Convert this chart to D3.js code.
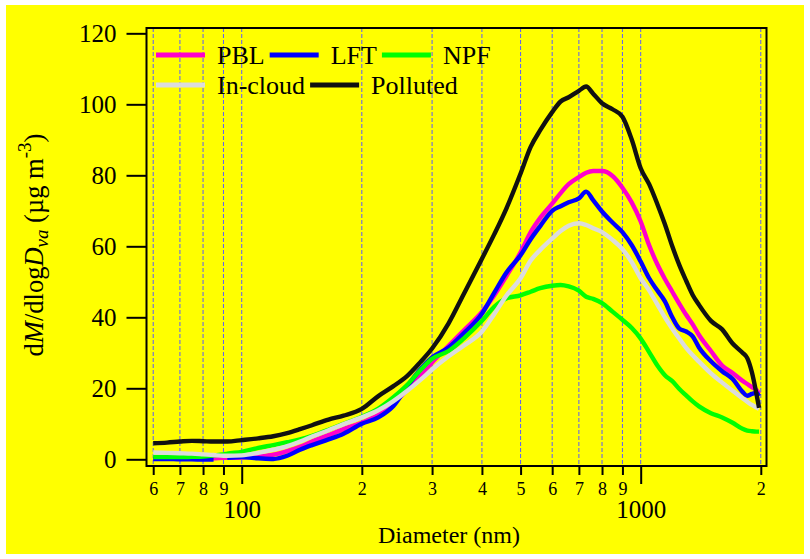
<!DOCTYPE html>
<meta charset="utf-8">
<style>
body { margin: 0; background: #fff; }
svg { display: block; }
.axis path, .axis line { stroke: #000; stroke-width: 2; fill: none; }
.axis text { font-family: "Liberation Serif", serif; fill: #000; }
.grid line { stroke: #5a5aff; stroke-width: 1; stroke-dasharray: 4,2; }
.series { fill: none; stroke-width: 4.4; stroke-linejoin: round; }
.legend text { font: 26px "Liberation Serif", serif; }
</style>
<body>
<script src="https://d3js.org/d3.v7.min.js"></script>
<script>

// diameters (nm) shared by every series
var diameters = [60, 65, 70, 75, 80, 85, 90, 92, 100,
    110, 120, 130, 140, 150, 165, 180, 200,
    220, 240, 260, 280, 300, 330, 360, 400,
    430, 460, 500, 530, 560, 600, 630, 660,
    700, 730, 760, 800, 850, 900, 950, 1000,
    1050, 1100, 1150, 1200, 1250, 1300, 1350, 1400,
    1500, 1600, 1700, 1800, 1850, 1900, 1950, 1980];

var pbl = [0.2, 0.2, 0.2, 0.2, 0.3, 0.3, 0.4, 0.4, 0.5,
    0.8, 1.3, 2.3, 3.5, 5.0, 6.8, 8.5, 10.3,
    12.5, 15.8, 19.5, 23.5, 27.3, 32, 36.3, 41.5,
    46.3, 51.5, 58.3, 64, 68, 72, 75, 77.5,
    79.5, 80.7, 81.2, 81.2, 79.8, 76.5, 72.3, 67,
    60.3, 55, 50.8, 47.2, 43.8, 40.7, 38, 35,
    30.5, 26.4, 24.3, 22.1, 21.2, 20.3, 19.5, 18.5];

var lft = [0.1, 0.1, 0.0, 0.0, -0.1, -0.1, null, 0.4, 0.6,
    0.3, 0.1, 1.0, 2.7, 4.0, 5.6, 7.2, 10.0,
    11.8, 15, 20.5, 25.3, 28.7, 31.5, 35.5, 41,
    47, 52.5, 57.5, 62, 65.7, 70, 71.3, 72.4,
    73.5, 75.4, 73, 69.8, 66.7, 64, 60.3, 55.7,
    51, 47.6, 44.5, 40, 36.8, 36, 34.6, 31.5,
    27.6, 24.8, 22.6, 19, 17.9, 18.4, 18.7, 17.8];

var npf = [0.6, 0.6, 0.6, 0.7, 0.8, 1.1, 1.4, 1.6, 2.1,
    3.2, 4.0, 4.8, 5.6, 6.6, 8.3, 10.0, 12,
    14.3, 17.5, 21, 25, 28.3, 30.5, 34, 39,
    43, 45.3, 46.2, 47.2, 48.2, 48.9, 49.1, 48.7,
    47.5, 45.8, 45.2, 44, 41.6, 39.3, 37, 34,
    30.2, 26.5, 23.7, 22, 19.8, 18, 16.3, 14.9,
    13, 11.8, 10.3, 8.6, 8.1, 7.9, 7.8, 7.8];

var inCloud = [1.9, 1.8, 1.7, 1.6, 1.4, 1.2, 1.0, 1.0, 1.1,
    1.8, 2.7, 3.7, 5.0, 6.4, 8.2, 9.9, 11.8,
    13.8, 16.4, 19.3, 22.3, 25.3, 29, 32, 36,
    41, 46, 51, 56, 59, 62.2, 64.3, 65.8,
    66.5, 66, 65.1, 64, 61.8, 59.2, 55.5, 51,
    47.6, 43.7, 40, 36.8, 34, 31.4, 29.3, 27.5,
    24.2, 21.6, 19.3, 17.2, 16.2, 15.3, 14.6, 14.2];

var polluted = [4.5, 4.7, 5.0, 5.2, 5.1, 5.0, 5.0, 5.0, 5.4,
    5.9, 6.5, 7.4, 8.5, 9.6, 11.2, 12.3, 14.2,
    17.8, 20.6, 23.5, 27.3, 31.2, 38.3, 46.5, 56.5,
    63.5, 70.5, 80.5, 88, 92.7, 97.8, 100.8, 102,
    103.8, 105, 103, 100.3, 98.6, 96.5, 90, 82,
    77.5, 72, 66.2, 60, 54.7, 50.3, 46.3, 43.5,
    39, 36.6, 32.6, 30, 28.5, 24.5, 18.5, 14.5];

var seriesNames = ["PBL", "LFT", "NPF", "In-cloud", "Polluted"];
var seriesColors = ["#ff00cc", "#0000ff", "#00ff00", "#dcdcdc", "#111111"];
var seriesValues = [pbl, lft, npf, inCloud, polluted];

var minorTicks = [60, 70, 80, 90, 200, 300, 400, 500, 600, 700, 800, 900, 2000];
var majorTicks = [100, 1000];
var yTicks = [0, 20, 40, 60, 80, 100, 120];

var W = 810, H = 559;
var plot = {left: 146.5, right: 766.5, top: 28, bottom: 466};

var svg = d3.select("body").append("svg")
    .attr("width", W)
    .attr("height", H);

// yellow page
svg.append("rect")
    .attr("x", 6).attr("y", 5)
    .attr("width", W - 12).attr("height", H - 10)
    .attr("fill", "#ffff00");

var x = d3.scaleLog()
    .domain([57.72, 2067])
    .range([plot.left, plot.right]);

var y = d3.scaleLinear()
    .domain([-1.89, 121.5])
    .range([plot.bottom, plot.top]);

// vertical dashed grid at every tick
svg.append("g")
    .attr("class", "grid")
    .selectAll("line")
    .data(minorTicks.concat(majorTicks))
    .enter().append("line")
    .attr("x1", d => x(d)).attr("x2", d => x(d))
    .attr("y1", plot.top).attr("y2", plot.bottom);

// curves
var line = d3.line()
    .defined(d => d[1] != null)
    .x(d => x(d[0]))
    .y(d => y(d[1]))
    .curve(d3.curveMonotoneX);

seriesValues.forEach(function(vals, i) {
    svg.append("path")
        .attr("class", "series")
        .attr("stroke", seriesColors[i])
        .attr("d", line(diameters.map((d, j) => [d, vals[j]])));
});

// frame
svg.append("rect")
    .attr("x", plot.left).attr("y", plot.top)
    .attr("width", plot.right - plot.left).attr("height", plot.bottom - plot.top)
    .attr("fill", "none")
    .attr("stroke", "#000")
    .attr("stroke-width", 2);

// x axis, minor and major ticks
var gxMinor = svg.append("g")
    .attr("class", "axis")
    .attr("transform", "translate(0," + plot.bottom + ")")
    .call(d3.axisBottom(x)
        .tickValues(minorTicks)
        .tickSize(9)
        .tickPadding(7)
        .tickFormat(d => String(d).charAt(0)));
gxMinor.select(".domain").remove();
gxMinor.selectAll("text").style("font-size", "18px");

var gxMajor = svg.append("g")
    .attr("class", "axis")
    .attr("transform", "translate(0," + plot.bottom + ")")
    .call(d3.axisBottom(x)
        .tickValues(majorTicks)
        .tickSize(18)
        .tickPadding(16)
        .tickFormat(d3.format("d")));
gxMajor.select(".domain").remove();
gxMajor.selectAll("text").style("font-size", "25px");

var gy = svg.append("g")
    .attr("class", "axis")
    .attr("transform", "translate(" + plot.left + ",0)")
    .call(d3.axisLeft(y)
        .tickValues(yTicks)
        .tickSize(20)
        .tickPadding(10));
gy.select(".domain").remove();
gy.selectAll("text").style("font-size", "25px");

// axis titles
svg.append("text")
    .attr("x", 449).attr("y", 543)
    .attr("text-anchor", "middle")
    .style("font", "24px 'Liberation Serif', serif")
    .text("Diameter (nm)");

var yt = svg.append("text")
    .attr("transform", "translate(43,245) rotate(-90)")
    .attr("text-anchor", "middle")
    .style("font", "26.5px 'Liberation Serif', serif");
yt.append("tspan").text("d");
yt.append("tspan").style("font-style", "italic").text("M");
yt.append("tspan").text("/dlog");
yt.append("tspan").style("font-style", "italic").text("D");
yt.append("tspan").style("font-style", "italic").style("font-size", "19px").attr("dy", 5).text("va");
yt.append("tspan").attr("dy", -5).text(" (\u00b5g m");
yt.append("tspan").style("font-size", "19px").attr("dy", -12).text("-3");
yt.append("tspan").attr("dy", 12).text(")");

// legend, two rows flowing left to right
var legendRows = [[0, 1, 2], [3, 4]];
var legend = svg.append("g").attr("class", "legend");
legendRows.forEach(function(row, r) {
    var cx = 156, cy = 55 + r * 30;
    row.forEach(function(i) {
        legend.append("line")
            .attr("x1", cx).attr("x2", cx + 49)
            .attr("y1", cy).attr("y2", cy)
            .attr("stroke", seriesColors[i])
            .attr("stroke-width", 5);
        var t = legend.append("text")
            .attr("x", cx + 61).attr("y", cy + 8.5)
            .text(seriesNames[i]);
        cx += 61 + t.node().getComputedTextLength() + 5;
    });
});

</script>
